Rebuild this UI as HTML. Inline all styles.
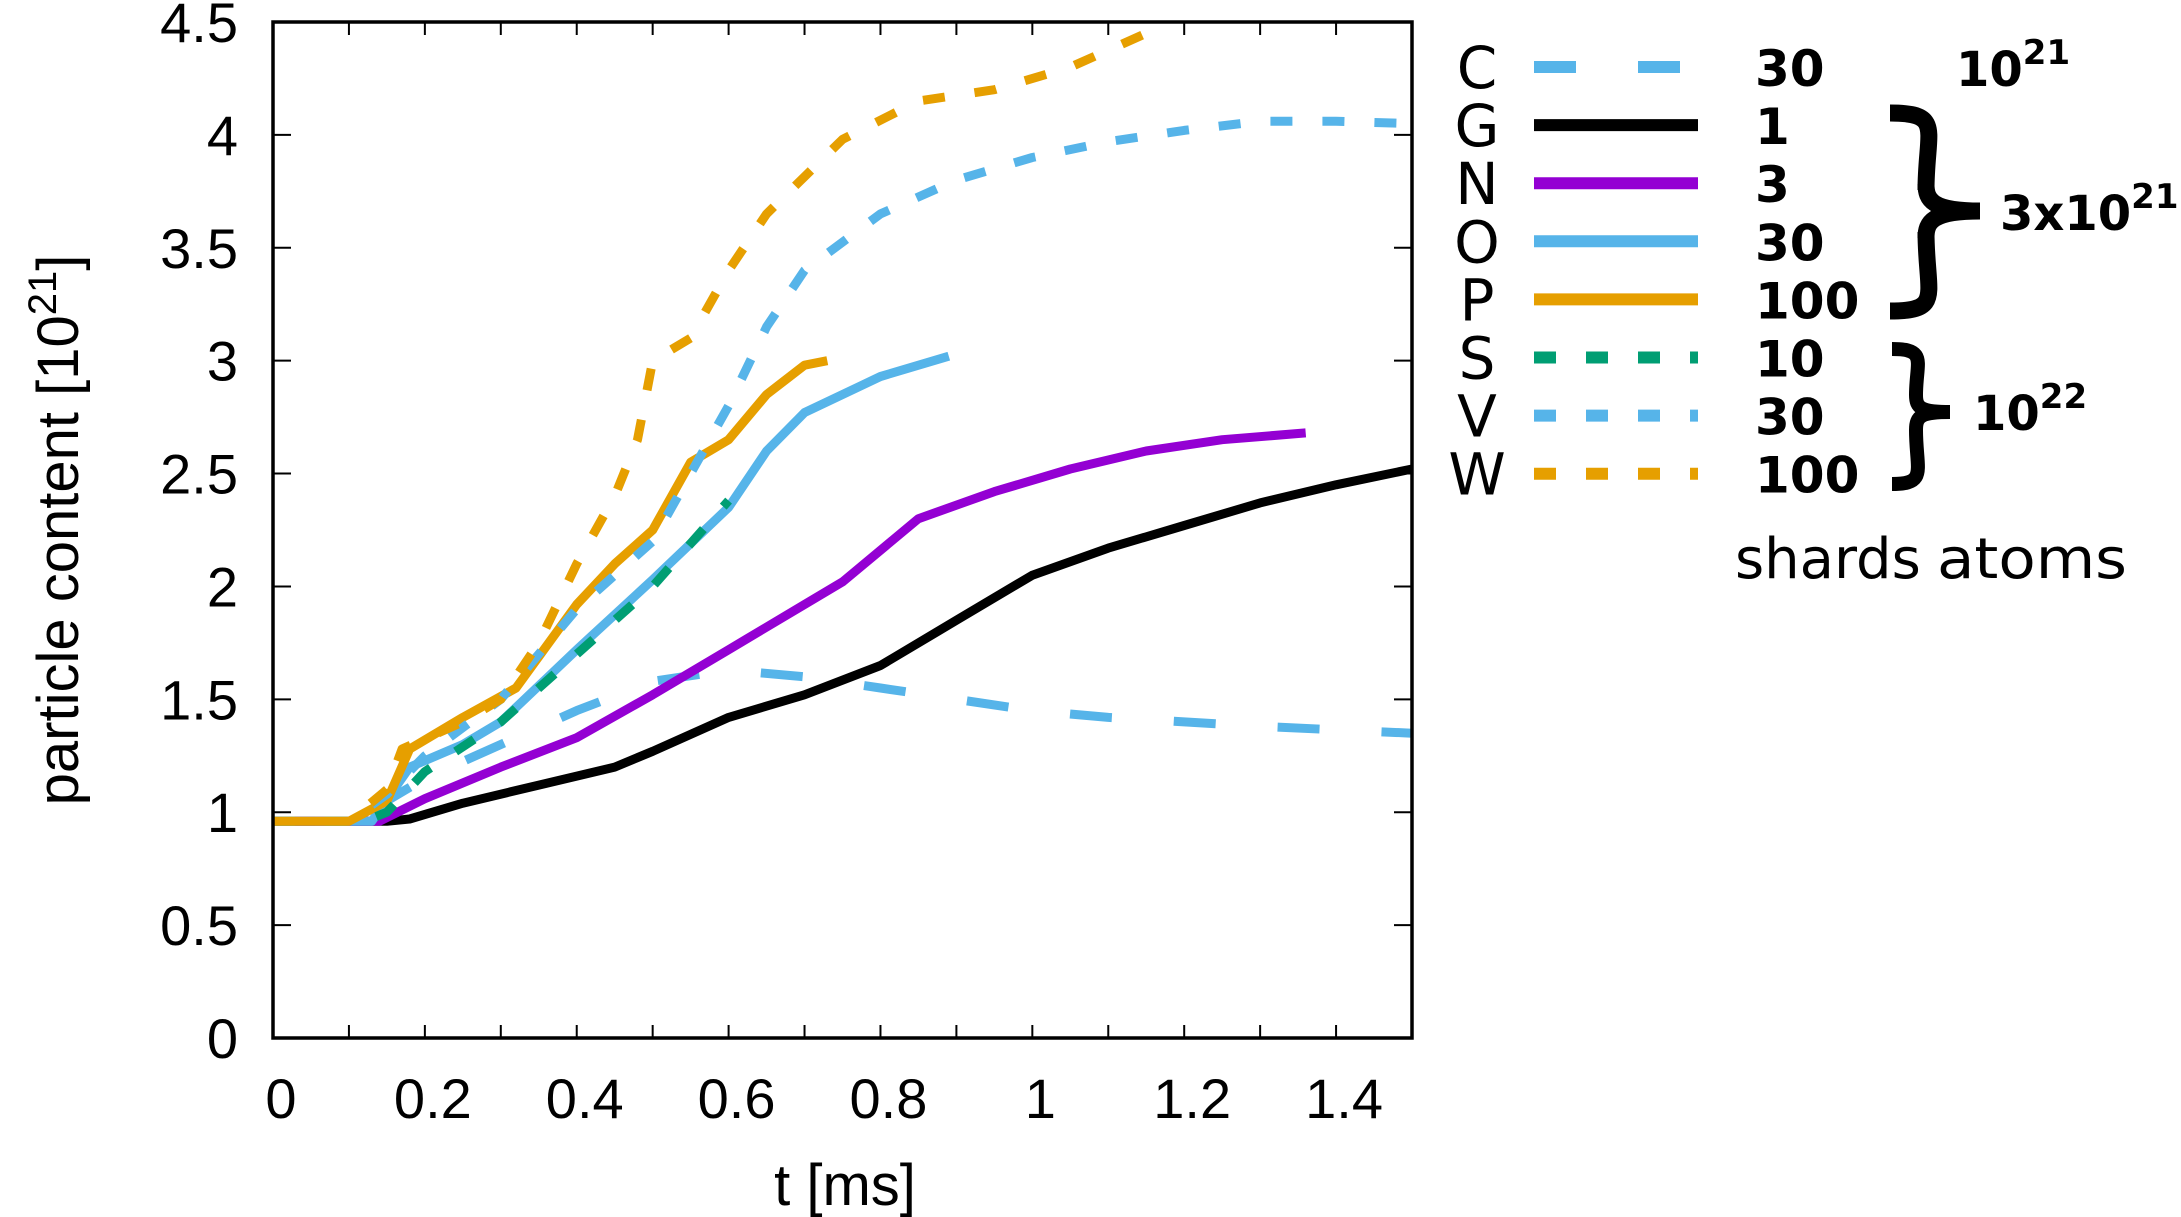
<!DOCTYPE html>
<html><head><meta charset="utf-8"><style>
html,body{margin:0;padding:0;background:#fff;}
svg{display:block;font-family:"Liberation Sans","DejaVu Sans",sans-serif;}
.dv{font-family:"DejaVu Sans","Liberation Sans",sans-serif;}
</style></head><body>
<svg id="chart" width="2181" height="1217" viewBox="0 0 2181 1217" xmlns="http://www.w3.org/2000/svg">
<g id="plot"></g>
<g id="axes"></g>
<text transform="translate(78,530) rotate(-90)" font-size="58" text-anchor="middle">particle content [10<tspan font-size="40" dy="-22">21</tspan><tspan dy="22">]</tspan></text>
<text x="845" y="1205" font-size="58" text-anchor="middle">t [ms]</text>
<g id="legend" class="dv"></g>
<g class="dv" font-weight="bold">
<text x="1956" y="86" font-size="48">10<tspan font-size="34" dy="-22">21</tspan></text>
<path d="M1890,113 C1944,113 1926,130 1926,190 L1926,184 C1926,200 1932,211 1980,211 C1932,211 1926,222 1926,238 L1926,232 C1926,295 1944,311 1890,311" fill="none" stroke="#000" stroke-width="17"/>
<text x="2000" y="230" font-size="48">3x10<tspan font-size="34" dy="-22">21</tspan></text>
<path d="M1892,349 C1928,349 1916,362 1916,395 C1916,408 1921,412 1950,412 C1921,412 1916,416 1916,430 C1916,470 1928,484 1892,484" fill="none" stroke="#000" stroke-width="14"/>
<text x="1973" y="430" font-size="48">10<tspan font-size="34" dy="-22">22</tspan></text>
</g>
<text class="dv" x="1735" y="578" font-size="56">shards</text>
<text class="dv" x="1937" y="578" font-size="56" textLength="190" lengthAdjust="spacingAndGlyphs">atoms</text>
</svg>
<script>
const xTicks=[0,0.2,0.4,0.6,0.8,1,1.2,1.4];
const xTickLabels=["0","0.2","0.4","0.6","0.8","1","1.2","1.4"];
const yTicks=[0,0.5,1,1.5,2,2.5,3,3.5,4,4.5];
const yTickLabels=["0","0.5","1","1.5","2","2.5","3","3.5","4","4.5"];
const seriesNames=["C","G","N","O","P","S","V","W"];
const seriesShards=["30","1","3","30","100","10","30","100"];
const tC=[0,0.1,0.15,0.2,0.3,0.4,0.5,0.6,0.7,0.8,0.9,1.0,1.1,1.2,1.3,1.5];
const yC=[0.96,0.96,1.05,1.15,1.3,1.45,1.58,1.63,1.6,1.55,1.5,1.45,1.42,1.4,1.38,1.35];
const tG=[0,0.15,0.18,0.25,0.35,0.45,0.5,0.6,0.7,0.8,0.9,1.0,1.1,1.2,1.3,1.4,1.5];
const yG=[0.96,0.96,0.97,1.04,1.12,1.2,1.27,1.42,1.52,1.65,1.85,2.05,2.17,2.27,2.37,2.45,2.52];
const tN=[0,0.14,0.2,0.3,0.4,0.5,0.6,0.7,0.75,0.85,0.95,1.05,1.15,1.25,1.36];
const yN=[0.96,0.96,1.06,1.2,1.33,1.52,1.72,1.92,2.02,2.3,2.42,2.52,2.6,2.65,2.68];
const tO=[0,0.13,0.18,0.25,0.3,0.4,0.5,0.6,0.65,0.7,0.8,0.89];
const yO=[0.96,0.96,1.2,1.3,1.4,1.72,2.03,2.35,2.6,2.77,2.93,3.02];
const tP=[0,0.1,0.15,0.18,0.25,0.32,0.4,0.45,0.5,0.55,0.6,0.65,0.7,0.73];
const yP=[0.96,0.96,1.05,1.28,1.42,1.55,1.92,2.1,2.25,2.55,2.65,2.85,2.98,3.0];
const tS=[0,0.12,0.15,0.2,0.3,0.4,0.5,0.6];
const yS=[0.96,0.96,1.0,1.18,1.4,1.7,2.0,2.38];
const tV=[0,0.1,0.15,0.2,0.3,0.4,0.5,0.55,0.6,0.65,0.7,0.8,0.9,1.0,1.1,1.2,1.3,1.4,1.5];
const yV=[0.96,0.96,1.08,1.25,1.5,1.9,2.2,2.5,2.8,3.15,3.4,3.65,3.8,3.9,3.97,4.02,4.06,4.06,4.05];
const tW=[0,0.1,0.15,0.17,0.25,0.3,0.35,0.4,0.45,0.48,0.5,0.55,0.6,0.65,0.75,0.85,0.95,1.05,1.15];
const yW=[0.96,0.96,1.1,1.28,1.4,1.5,1.75,2.1,2.4,2.65,3.0,3.1,3.4,3.65,3.98,4.15,4.2,4.3,4.45];

const NS="http://www.w3.org/2000/svg";
const L=273,R=1412,T=22,B=1038;
const X=v=>L+(v/1.5)*(R-L);
const Y=v=>B-(v/4.5)*(B-T);
function mk(tag,attrs,parent){const e=document.createElementNS(NS,tag);for(const k in attrs)e.setAttribute(k,attrs[k]);parent.appendChild(e);return e;}
const styles=[
 {c:"#56b4e9",d:"42 62"},{c:"#000000",d:""},{c:"#9400d3",d:""},{c:"#56b4e9",d:""},
 {c:"#e69f00",d:""},{c:"#009e73",d:"22 30"},{c:"#56b4e9",d:"22 30"},{c:"#e69f00",d:"22 30"}];
const data=[[tC,yC],[tG,yG],[tN,yN],[tO,yO],[tP,yP],[tS,yS],[tV,yV],[tW,yW]];
const plot=document.getElementById('plot');
data.forEach((s,i)=>{
 const pts=s[0].map((t,j)=>X(t).toFixed(1)+","+Y(s[1][j]).toFixed(1)).join(" ");
 const a={points:pts,fill:"none",stroke:styles[i].c,"stroke-width":9,"stroke-linejoin":"round"};
 if(styles[i].d)a["stroke-dasharray"]=styles[i].d;
 const p=mk('polyline',a,plot);
 
 
});
const ax=document.getElementById('axes');
const fr=mk('rect',{x:L,y:T,width:R-L,height:B-T,fill:"none",stroke:"#000","stroke-width":3.5},ax);


for(let k=0;k<=15;k++){const x=X(k/10);
 const t1=mk('line',{x1:x,y1:B,x2:x,y2:B-13,stroke:"#000","stroke-width":2},ax);
 
 
 const t2=mk('line',{x1:x,y1:T,x2:x,y2:T+13,stroke:"#000","stroke-width":2},ax);
 
 }
xTicks.forEach((v,i)=>{const t=mk('text',{x:X(v)+8,y:1118,"font-size":56,"text-anchor":"middle"},ax);t.textContent=xTickLabels[i];
 
 });
yTicks.forEach((v,i)=>{const y=Y(v);
 const a=mk('line',{x1:L,y1:y,x2:L+18,y2:y,stroke:"#000","stroke-width":2},ax);
 
 
 const b=mk('line',{x1:R,y1:y,x2:R-18,y2:y,stroke:"#000","stroke-width":2},ax);
 
 
 const t=mk('text',{x:238,y:y+20,"font-size":56,"text-anchor":"end"},ax);t.textContent=yTickLabels[i];
 
 });
const lg=document.getElementById('legend');
seriesNames.forEach((n,i)=>{const y=67+i*58.1;
 const g=mk('g',{},lg);
 
 
 const t=mk('text',{x:1477,y:y+21,"font-size":58,"text-anchor":"middle"},g);t.textContent=n;
 const a={x1:1534,y1:y,x2:1698,y2:y,stroke:styles[i].c,"stroke-width":12};
 if(styles[i].d)a["stroke-dasharray"]=styles[i].d;
 mk('line',a,g);
 const s=mk('text',{x:1755,y:y+19,"font-size":50,"font-weight":"bold"},g);s.textContent=seriesShards[i];});
</script>
</body></html>
